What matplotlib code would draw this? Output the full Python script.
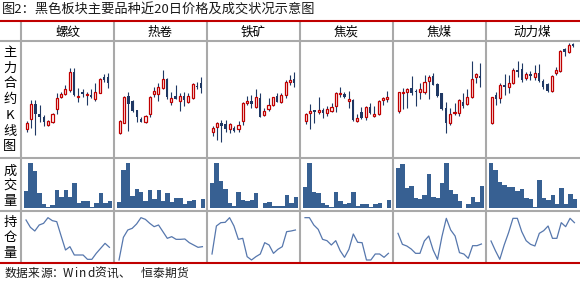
import matplotlib
matplotlib.use('Agg')
import matplotlib.pyplot as plt

plt.rcParams['font.family'] = ['Noto Sans CJK SC', 'DejaVu Sans']

title = '图2：黑色板块主要品种近20日价格及成交状况示意图'
source = '数据来源：Wind资讯、恒泰期货'
products = ['螺纹', '热卷', '铁矿', '焦炭', '焦煤', '动力煤']
row_labels = ['主力合约K线图', '成交量', '持仓量']

# daily K lines (open, high, low, close), index units
k_luowen = [(92, 117, 85, 112), (122, 180, 95, 167), (167, 180, 75, 138), (138, 165, 115, 130), (128, 135, 102, 115),
            (105, 120, 102, 117), (115, 142, 112, 138), (152, 202, 138, 185), (190, 205, 185, 198), (197, 225, 195, 212),
            (210, 275, 205, 263), (263, 275, 193, 195), (188, 215, 175, 192), (205, 212, 190, 197), (195, 205, 165, 198),
            (195, 212, 185, 188), (182, 230, 178, 203), (202, 245, 200, 242), (250, 258, 235, 240), (250, 260, 215, 232)]
k_rejuan = [(82, 120, 77, 117), (112, 192, 110, 188), (192, 205, 87, 168), (177, 180, 145, 148), (150, 150, 115, 128),
            (123, 130, 115, 115), (115, 135, 112, 133), (137, 192, 128, 188), (197, 220, 188, 207), (197, 232, 177, 218),
            (215, 270, 212, 242), (242, 245, 183, 188), (175, 205, 165, 185), (192, 225, 182, 182), (177, 200, 147, 192),
            (192, 205, 162, 180), (175, 200, 170, 192), (185, 232, 182, 228), (222, 235, 212, 218), (232, 248, 200, 215)]
k_tiekuang = [(85, 102, 72, 95), (98, 115, 60, 110), (110, 120, 55, 103), (107, 120, 85, 92), (92, 110, 80, 107),
              (97, 102, 85, 88), (92, 118, 85, 104), (117, 175, 105, 170), (170, 192, 165, 177), (177, 195, 155, 167),
              (160, 212, 157, 188), (185, 202, 128, 130), (135, 155, 132, 147), (153, 185, 147, 165), (165, 190, 162, 188),
              (192, 200, 173, 175), (173, 202, 170, 195), (195, 240, 185, 235), (235, 255, 225, 240), (243, 263, 218, 230)]
k_jiaotan = [(117, 142, 107, 137), (140, 167, 92, 147), (149, 150, 112, 143), (144, 188, 138, 150), (150, 155, 125, 142),
             (140, 162, 132, 153), (148, 172, 144, 158), (162, 205, 145, 200), (197, 218, 190, 202), (197, 205, 187, 190),
             (178, 208, 155, 183), (180, 182, 118, 120), (118, 138, 115, 127), (143, 158, 122, 125), (128, 162, 120, 158),
             (158, 170, 137, 140), (133, 162, 130, 138), (137, 180, 134, 177), (180, 188, 165, 185), (183, 207, 175, 188)]
k_jiaomei = [(147, 205, 140, 203), (200, 215, 152, 204), (203, 215, 155, 212), (215, 252, 195, 200), (207, 212, 162, 203),
             (203, 232, 183, 212), (203, 255, 198, 233), (238, 255, 182, 248), (252, 260, 225, 225), (228, 232, 190, 193),
             (202, 202, 150, 152), (155, 174, 80, 112), (110, 155, 105, 138), (140, 170, 135, 145), (142, 182, 132, 180),
             (175, 202, 157, 163), (167, 212, 164, 188), (188, 297, 185, 242), (248, 262, 230, 258), (253, 292, 220, 247)]
k_donglimei = [(112, 190, 108, 188), (195, 205, 165, 182), (185, 230, 172, 225), (225, 258, 195, 220), (220, 255, 202, 230),
               (230, 275, 228, 270), (270, 298, 250, 265), (272, 290, 233, 240), (245, 265, 240, 258), (258, 267, 240, 253),
               (248, 285, 240, 260), (260, 287, 235, 238), (238, 242, 212, 218), (228, 230, 205, 208), (207, 255, 204, 252),
               (260, 278, 255, 270), (268, 330, 265, 328), (333, 335, 312, 323), (325, 350, 322, 345), (347, 352, 338, 343)]

# volume (index units)
vol_luowen = [52, 137, 113, 47, 12, 5, 10, 55, 35, 55, 35, 77, 15, 23, 23, 3, 17, 47, 15, 23]
vol_rejuan = [18, 115, 137, 37, 57, 50, 23, 55, 28, 55, 23, 45, 18, 30, 30, 12, 22, 25, 2, 28]
vol_tiekuang = [75, 137, 83, 58, 17, 7, 50, 25, 23, 25, 45, 2, 15, 20, 7, 7, 7, 40, 15, 35]
vol_jiaotan = [65, 137, 50, 47, 17, 10, 5, 50, 22, 13, 17, 50, 7, 13, 13, 5, 13, 17, 2, 25]
vol_jiaomei = [120, 133, 60, 68, 30, 28, 40, 103, 35, 30, 77, 137, 55, 42, 23, 2, 12, 35, 20, 68]
vol_donglimei = [137, 115, 80, 70, 65, 63, 53, 57, 30, 27, 3, 85, 30, 25, 40, 13, 60, 13, 43, 27]

# open interest (index units)
oi_luowen = [190, 168, 157, 175, 180, 197, 188, 185, 142, 100, 110, 85, 85, 85, 72, 72, 90, 105, 120, 108]
oi_rejuan = [70, 138, 160, 165, 178, 197, 192, 180, 170, 175, 155, 135, 140, 132, 132, 133, 122, 115, 108, 110]
oi_tiekuang = [88, 172, 182, 183, 197, 172, 132, 135, 80, 70, 80, 88, 122, 115, 90, 102, 110, 155, 157, 160]
oi_jiaotan = [197, 197, 175, 162, 132, 128, 115, 128, 98, 78, 102, 148, 123, 122, 70, 70, 88, 88, 78, 90]
oi_jiaomei = [150, 117, 112, 103, 90, 90, 127, 142, 100, 72, 140, 195, 160, 142, 92, 88, 75, 113, 113, 118]
oi_donglimei = [127, 98, 72, 115, 152, 195, 195, 155, 128, 117, 112, 150, 158, 172, 135, 135, 182, 170, 195, 182]

klines = [k_luowen, k_rejuan, k_tiekuang, k_jiaotan, k_jiaomei, k_donglimei]
volumes = [vol_luowen, vol_rejuan, vol_tiekuang, vol_jiaotan, vol_jiaomei, vol_donglimei]
ois = [oi_luowen, oi_rejuan, oi_tiekuang, oi_jiaotan, oi_jiaomei, oi_donglimei]

RED = '#c00000'
NAVY = '#1f3864'
BAR = '#376092'
LINE = '#5677ad'
GRID = '#a9a9a9'

W, H = 580, 283
fig = plt.figure(figsize=(W / 100, H / 100), dpi=100)


def px_axes(x0, y0, x1, y1):
    ax = fig.add_axes([x0 / W, 1 - y1 / H, (x1 - x0) / W, (y1 - y0) / H])
    ax.set_axis_off()
    return ax


col_x = [21 + 93 * i for i in range(7)]

for c in range(6):
    x0 = col_x[c] + 1.5
    x1 = min(col_x[c + 1] - 1.5, 578)

    # candles
    ax = px_axes(x0, 41.5, x1, 157)
    for i, (o, h, l, cl) in enumerate(klines[c]):
        ax.vlines(i, l, h, color=NAVY, lw=0.8, zorder=2)
        if cl >= o:
            ax.bar(i, max(cl - o, 4), bottom=o, width=0.5, facecolor='white',
                   edgecolor=RED, linewidth=0.9, zorder=3)
        else:
            ax.bar(i, max(o - cl, 4), bottom=cl, width=0.55, color=NAVY, zorder=3)
    ax.set_xlim(-1, 20)
    ax.set_ylim(9, 355.5)

    # volume
    ax = px_axes(x0, 159.5, x1, 210)
    ax.bar(range(20), volumes[c], width=1.0, color=BAR)
    ax.set_xlim(-0.85, 19.6)
    ax.set_ylim(-5, 146.5)

    # open interest
    ax = px_axes(x0, 212, x1, 260.5)
    ax.plot(range(20), ois[c], color=LINE, lw=0.9)
    ax.set_xlim(-0.8, 19.7)
    ax.set_ylim(68.5, 214)

# table frame, labels and title drawn in pixel space
ov = fig.add_axes([0, 0, 1, 1], zorder=10)
ov.set_xlim(0, W)
ov.set_ylim(H, 0)
ov.set_axis_off()

for x in col_x[:6]:
    ov.plot([x, x], [22, 262], color=GRID, lw=1.5, solid_capstyle='butt')
for y in [41, 158, 211]:
    ov.plot([0, W], [y, y], color=GRID, lw=1.5, solid_capstyle='butt')
ov.plot([0, W], [21, 21], color=RED, lw=1.5, solid_capstyle='butt')
ov.plot([0, W], [262.5, 262.5], color=RED, lw=1.5, solid_capstyle='butt')

ov.text(2, 10.5, title, fontsize=9.5, color='#1a1a1a', ha='left', va='center')
for c, name in enumerate(products):
    ov.text((col_x[c] + col_x[c + 1]) / 2, 32, name, fontsize=9, ha='center', va='center')

label_rows = [(52.5, 15.7), (171, 15), (222.5, 15.3)]
for text, (y0, step) in zip(row_labels, label_rows):
    for j, ch in enumerate(text):
        ov.text(10, y0 + j * step, ch, fontsize=9.5, ha='center', va='center')

# source line, set with the wide character pitch of the original
x = 4
for ch in source:
    wide = ord(ch) > 255
    step = 12 if wide else 7.6
    if ch == '、':
        step = 22
    ov.text(x + (6 if wide else 3.8), 273.5, ch, fontsize=8.5, color='#1a1a1a',
            ha='center', va='center')
    x += step

fig.savefig('out.png', dpi=100, facecolor='white')
